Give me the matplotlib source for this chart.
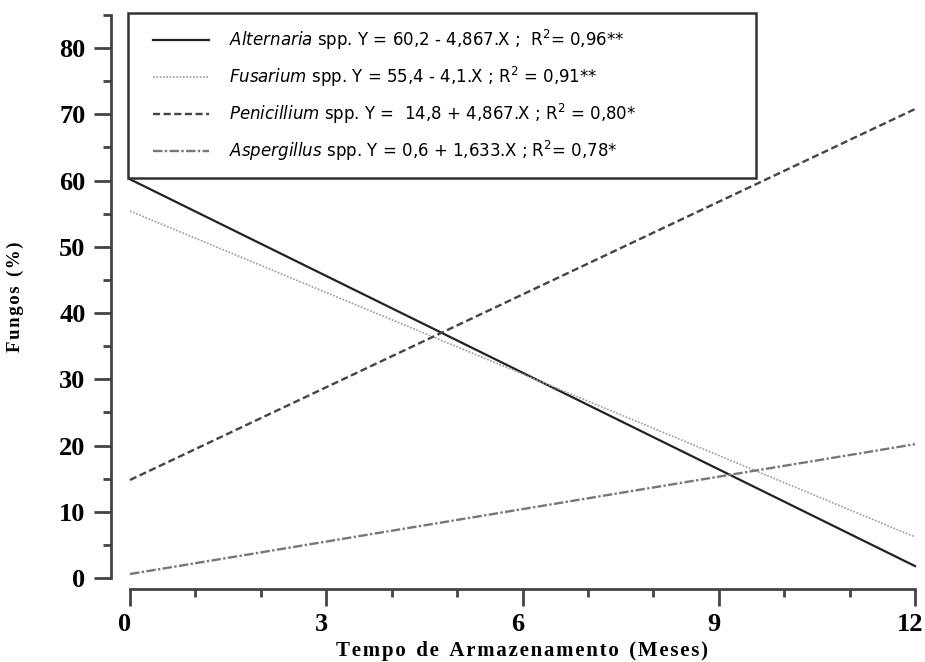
import matplotlib
matplotlib.use('Agg')
import matplotlib.pyplot as plt
import matplotlib.transforms as mtransforms
from matplotlib.lines import Line2D
from matplotlib.legend_handler import HandlerLine2D
from matplotlib.ticker import MultipleLocator

plt.rcParams['mathtext.fontset'] = 'dejavusans'

# storage time (months) and fitted values
months = [0, 12]
alternaria = [60.2, 1.8]
fusarium = [55.4, 6.2]
penicillium = [14.8, 70.8]
aspergillus = [0.6, 20.2]

labels = [r'$\it{Alternaria}$ spp. Y = 60,2 - 4,867.X ;  R$^2$= 0,96**',
          r'$\it{Fusarium}$ spp. Y = 55,4 - 4,1.X ; R$^2$ = 0,91**',
          r'$\it{Penicillium}$ spp. Y =  14,8 + 4,867.X ; R$^2$ = 0,80*',
          r'$\it{Aspergillus}$ spp. Y = 0,6 + 1,633.X ; R$^2$= 0,78*']


def spaced(s, gap='\u200a'):
    # crude letter spacing for the bold axis titles
    return '\u2002'.join(gap.join(w) for w in s.split(' '))


W, H = 925, 662
fig = plt.figure(figsize=(W/100, H/100), dpi=100)
ax = fig.add_axes([130/W, 1-578/H, 785/W, 563/H])

l1, = ax.plot(months, alternaria, color='#222222', lw=1.6, clip_on=False)
l2, = ax.plot(months, fusarium, color='#9a9a9a', lw=1.2, ls=(0, (1, 1)), clip_on=False)
l3, = ax.plot(months, penicillium, color='#444444', lw=1.7, ls=(0, (3, 1.5)), clip_on=False)
l4, = ax.plot(months, aspergillus, color='#777777', lw=1.7, ls=(0, (4, 1, 1, 1)), clip_on=False)

ax.set_xlim(0, 12)
ax.set_ylim(0, 85)
for s in ['top', 'right']:
    ax.spines[s].set_visible(False)
ax.spines['left'].set_position(('outward', 14))
ax.spines['bottom'].set_position(('outward', 8))
ax.spines['left'].set_bounds(0, 85)
ax.spines['bottom'].set_bounds(0, 12)
for s in ['left', 'bottom']:
    ax.spines[s].set_color('#444444')
    ax.spines[s].set_linewidth(2)

ax.xaxis.set_major_locator(MultipleLocator(3))
ax.xaxis.set_minor_locator(MultipleLocator(1))
ax.yaxis.set_minor_locator(MultipleLocator(5))
ax.set_yticks(range(0, 81, 10))
ax.tick_params(which='major', length=12, width=2, color='#444444')
ax.tick_params(which='minor', length=6, width=2, color='#444444')
ax.tick_params(axis='x', pad=5)
ax.tick_params(axis='y', pad=6)
for t in ax.get_xticklabels() + ax.get_yticklabels():
    t.set_fontfamily('Liberation Serif')
    t.set_fontweight('bold')
    t.set_fontsize(19)
shift = mtransforms.ScaledTranslation(-5/100, 0, fig.dpi_scale_trans)
for t in ax.get_xticklabels():
    t.set_transform(t.get_transform() + shift)

ax.set_xlabel(spaced('Tempo de Armazenamento (Meses)'),
              fontfamily=['Liberation Serif', 'DejaVu Serif'], fontweight='bold', fontsize=15, labelpad=4)
ax.set_ylabel(spaced('Fungos (%)'),
              fontfamily=['Liberation Serif', 'DejaVu Serif'], fontweight='bold', fontsize=13.5)
ax.yaxis.set_label_coords(-106/785, 0.5)

leg = ax.legend([l1, l2, l3, l4], labels, loc='upper left',
                bbox_to_anchor=(-0.003, 0.5, 0.8, 0.504), mode='expand',
                borderaxespad=0, fancybox=False, framealpha=1, edgecolor='#333333',
                prop={'family': 'DejaVu Sans', 'size': 12},
                handler_map={Line2D: HandlerLine2D(xpad=0.6)},
                handlelength=4.0, handletextpad=1.2, labelspacing=0.78, borderpad=0.9)
leg.get_frame().set_linewidth(1.8)

fig.savefig('out.png', dpi=100)
